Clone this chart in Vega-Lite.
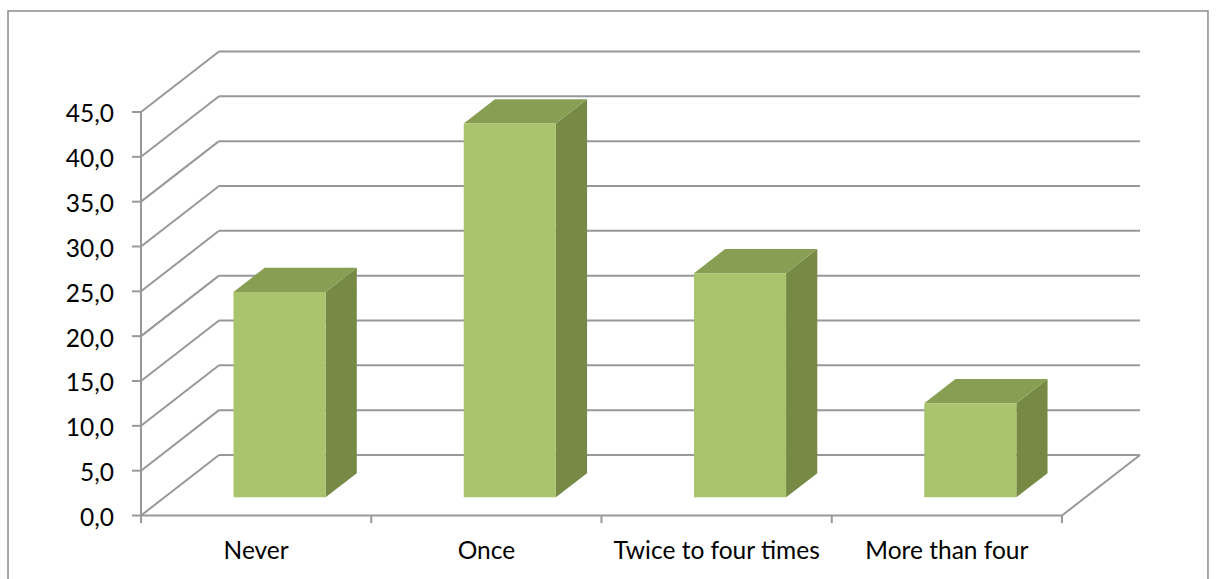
{
  "$schema": "https://vega.github.io/schema/vega-lite/v6.json",
  "width": 1216,
  "height": 579,
  "padding": 0,
  "autosize": {"type": "none"},
  "background": "white",
  "config": {"view": {"stroke": null}, "text": {"font": "Lato", "fontSize": 24.5, "color": "#000000"}},
  "datasets": {
    "bars": [
      {"category": "Never", "value": 22.9},
      {"category": "Once", "value": 41.7},
      {"category": "Twice to four times", "value": 25.0},
      {"category": "More than four", "value": 10.5}
    ],
    "grid": [
      {"v": 0}, {"v": 5}, {"v": 10}, {"v": 15}, {"v": 20},
      {"v": 25}, {"v": 30}, {"v": 35}, {"v": 40}, {"v": 45}
    ],
    "xticks": [{"k": 0}, {"k": 1}, {"k": 2}, {"k": 3}, {"k": 4}]
  },
  "layer": [
    {
      "data": {"values": [{}]},
      "mark": {"type": "rect", "fill": null, "stroke": "#8c8c8c", "strokeWidth": 1.5},
      "encoding": {
        "x": {"datum": -0.5776, "type": "quantitative", "scale": {"domain": [-0.6124, 4.6688], "nice": false, "zero": false}, "axis": null},
        "x2": {"datum": 4.634},
        "y": {"datum": 56.26, "type": "quantitative", "scale": {"domain": [-7.0815, 57.489], "nice": false, "zero": false}, "axis": null},
        "y2": {"datum": -8.3}
      }
    },
    {
      "data": {"name": "grid"},
      "transform": [{"calculate": "datum.v + 6.75", "as": "vb"}],
      "mark": {"type": "rule", "stroke": "#989898", "strokeWidth": 2},
      "encoding": {
        "x": {"datum": 0.3388, "type": "quantitative", "scale": {"domain": [-0.6124, 4.6688], "nice": false, "zero": false}, "axis": null},
        "x2": {"datum": 4.3388},
        "y": {"field": "vb", "type": "quantitative", "scale": {"domain": [-7.0815, 57.489], "nice": false, "zero": false}, "axis": null}
      }
    },
    {
      "data": {"name": "grid"},
      "transform": [{"calculate": "datum.v + 6.75", "as": "vb"}],
      "mark": {"type": "rule", "stroke": "#989898", "strokeWidth": 2},
      "encoding": {
        "x": {"datum": 0, "type": "quantitative", "scale": {"domain": [-0.6124, 4.6688], "nice": false, "zero": false}, "axis": null},
        "x2": {"datum": 0.3388},
        "y": {"field": "v", "type": "quantitative", "scale": {"domain": [-7.0815, 57.489], "nice": false, "zero": false}, "axis": null},
        "y2": {"field": "vb"}
      }
    },
    {
      "data": {"values": [{}]},
      "mark": {"type": "rule", "stroke": "#989898", "strokeWidth": 2},
      "encoding": {
        "x": {"datum": 0, "type": "quantitative", "scale": {"domain": [-0.6124, 4.6688], "nice": false, "zero": false}, "axis": null},
        "y": {"datum": 0, "type": "quantitative", "scale": {"domain": [-7.0815, 57.489], "nice": false, "zero": false}, "axis": null},
        "y2": {"datum": 45}
      }
    },
    {
      "data": {"values": [{}]},
      "mark": {"type": "rule", "stroke": "#989898", "strokeWidth": 2},
      "encoding": {
        "x": {"datum": 0, "type": "quantitative", "scale": {"domain": [-0.6124, 4.6688], "nice": false, "zero": false}, "axis": null},
        "x2": {"datum": 4},
        "y": {"datum": 0, "type": "quantitative", "scale": {"domain": [-7.0815, 57.489], "nice": false, "zero": false}, "axis": null}
      }
    },
    {
      "data": {"values": [{}]},
      "mark": {"type": "rule", "stroke": "#989898", "strokeWidth": 2},
      "encoding": {
        "x": {"datum": 4, "type": "quantitative", "scale": {"domain": [-0.6124, 4.6688], "nice": false, "zero": false}, "axis": null},
        "x2": {"datum": 4.3388},
        "y": {"datum": 0, "type": "quantitative", "scale": {"domain": [-7.0815, 57.489], "nice": false, "zero": false}, "axis": null},
        "y2": {"datum": 6.75}
      }
    },
    {
      "data": {"name": "grid"},
      "mark": {"type": "rule", "stroke": "#989898", "strokeWidth": 2},
      "encoding": {
        "x": {"datum": -0.039, "type": "quantitative", "scale": {"domain": [-0.6124, 4.6688], "nice": false, "zero": false}, "axis": null},
        "x2": {"datum": 0},
        "y": {"field": "v", "type": "quantitative", "scale": {"domain": [-7.0815, 57.489], "nice": false, "zero": false}, "axis": null}
      }
    },
    {
      "data": {"name": "grid"},
      "transform": [{"calculate": "replace(format(datum.v, '.1f'), '.', ',')", "as": "label"}],
      "mark": {"type": "text", "align": "right", "baseline": "alphabetic", "dy": 10.5},
      "encoding": {
        "x": {"datum": -0.1173, "type": "quantitative", "scale": {"domain": [-0.6124, 4.6688], "nice": false, "zero": false}, "axis": null},
        "y": {"field": "v", "type": "quantitative", "scale": {"domain": [-7.0815, 57.489], "nice": false, "zero": false}, "axis": null},
        "text": {"field": "label"}
      }
    },
    {
      "data": {"name": "xticks"},
      "mark": {"type": "rule", "stroke": "#989898", "strokeWidth": 2},
      "encoding": {
        "x": {"field": "k", "type": "quantitative", "scale": {"domain": [-0.6124, 4.6688], "nice": false, "zero": false}, "axis": null},
        "y": {"datum": 0, "type": "quantitative", "scale": {"domain": [-7.0815, 57.489], "nice": false, "zero": false}, "axis": null},
        "y2": {"datum": -0.85}
      }
    },
    {
      "data": {"name": "bars"},
      "transform": [
        {"window": [{"op": "row_number", "as": "idx"}]},
        {"calculate": "datum.idx - 0.5", "as": "cx"}
      ],
      "mark": {"type": "text", "align": "center", "baseline": "alphabetic", "dy": 43.5},
      "encoding": {
        "x": {"field": "cx", "type": "quantitative", "scale": {"domain": [-0.6124, 4.6688], "nice": false, "zero": false}, "axis": null},
        "y": {"datum": 0, "type": "quantitative", "scale": {"domain": [-7.0815, 57.489], "nice": false, "zero": false}, "axis": null},
        "text": {"field": "category"}
      }
    },
    {
      "data": {"name": "bars"},
      "transform": [
        {"window": [{"op": "row_number", "as": "idx"}]},
        {"calculate": "[0.3, 0.7]", "as": "d"},
        {"flatten": ["d"]},
        {"calculate": "datum.idx - 0.3 + datum.d * 0.3388", "as": "sx"},
        {"calculate": "datum.d * 6.75", "as": "sy"},
        {"calculate": "datum.value + datum.d * 6.75", "as": "sy2"}
      ],
      "mark": {"type": "area", "orient": "vertical", "color": "#768a45", "opacity": 1},
      "encoding": {
        "x": {"field": "sx", "type": "quantitative", "scale": {"domain": [-0.6124, 4.6688], "nice": false, "zero": false}, "axis": null},
        "y": {"field": "sy", "type": "quantitative", "scale": {"domain": [-7.0815, 57.489], "nice": false, "zero": false}, "axis": null},
        "y2": {"field": "sy2"},
        "detail": {"field": "category"}
      }
    },
    {
      "data": {"name": "bars"},
      "transform": [
        {"window": [{"op": "row_number", "as": "idx"}]},
        {"calculate": "[0.3, 0.7]", "as": "d"},
        {"flatten": ["d"]},
        {"calculate": "datum.idx - 0.7 + datum.d * 0.3388", "as": "tx"},
        {"calculate": "datum.idx - 0.3 + datum.d * 0.3388", "as": "tx2"},
        {"calculate": "datum.value + datum.d * 6.75", "as": "ty"}
      ],
      "mark": {"type": "area", "orient": "horizontal", "color": "#889e52", "opacity": 1},
      "encoding": {
        "y": {"field": "ty", "type": "quantitative", "scale": {"domain": [-7.0815, 57.489], "nice": false, "zero": false}, "axis": null},
        "x": {"field": "tx", "type": "quantitative", "scale": {"domain": [-0.6124, 4.6688], "nice": false, "zero": false}, "axis": null},
        "x2": {"field": "tx2"},
        "detail": {"field": "category"}
      }
    },
    {
      "data": {"name": "bars"},
      "transform": [
        {"window": [{"op": "row_number", "as": "idx"}]},
        {"calculate": "datum.idx - 0.7 + 0.3 * 0.3388", "as": "fx"},
        {"calculate": "datum.idx - 0.3 + 0.3 * 0.3388", "as": "fx2"},
        {"calculate": "0.3 * 6.75", "as": "fy"},
        {"calculate": "datum.value + 0.3 * 6.75", "as": "fy2"}
      ],
      "mark": {"type": "rect", "color": "#a9c46c", "opacity": 1},
      "encoding": {
        "x": {"field": "fx", "type": "quantitative", "scale": {"domain": [-0.6124, 4.6688], "nice": false, "zero": false}, "axis": null},
        "x2": {"field": "fx2"},
        "y": {"field": "fy", "type": "quantitative", "scale": {"domain": [-7.0815, 57.489], "nice": false, "zero": false}, "axis": null},
        "y2": {"field": "fy2"}
      }
    }
  ]
}
